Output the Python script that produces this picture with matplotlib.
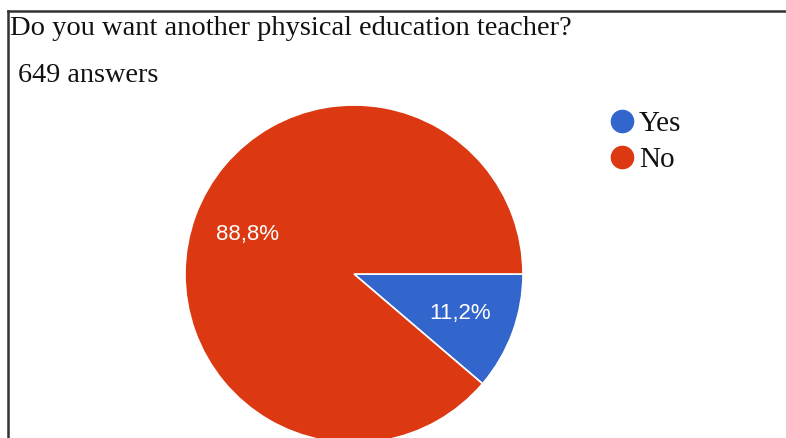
import matplotlib.pyplot as plt
from matplotlib.lines import Line2D

etiquetas = ['Yes', 'No']
respostas = [73, 576]
cores = ['#3366CC', '#DC3912']
titulo = "Do you want another physical education teacher?"
subtitulo = "649 answers"

W, H = 786, 438
fig = plt.figure(figsize=(W / 100, H / 100), dpi=100)

# moldura (linha superior e esquerda)
fig.add_artist(Line2D([8 / W, 1], [1 - 11 / H, 1 - 11 / H], color='#333333', linewidth=1.8))
fig.add_artist(Line2D([8 / W, 8 / W], [0, 1 - 11 / H], color='#333333', linewidth=1.8))

fig.text(10 / W, 1 - 35 / H, titulo, family='Liberation Serif', fontsize=20.5, color='#111111')
fig.text(18 / W, 1 - 82 / H, subtitulo, family='Liberation Serif', fontsize=20.3, color='#111111')

cx, cy, r = 354, 274, 169
ax = fig.add_axes([(cx - r) / W, (H - cy - r) / H, 2 * r / W, 2 * r / H])
wedges, _, autotexts = ax.pie(respostas, colors=cores, startangle=0, counterclock=False,
                              autopct=lambda p: f'{p:.1f}%'.replace('.', ','), pctdistance=0.67,
                              wedgeprops=dict(edgecolor='white', linewidth=1.2))
for t in autotexts:
    t.set_color('white')
    t.set_fontsize(16)
    t.set_family('Liberation Sans')
ax.set_xlim(-1, 1)
ax.set_ylim(-1, 1)
ax.set_aspect('equal')
ax.axis('off')

# legenda manual com marcadores circulares
for i, (nome, cor) in enumerate(zip(etiquetas, cores)):
    y = 1 - (121 + 36 * i) / H
    fig.add_artist(Line2D([622 / W], [y], marker='o', linestyle='', markersize=16,
                          markerfacecolor=cor, markeredgecolor=cor))
    fig.text(639 / W, y, nome, family='Liberation Serif', fontsize=21, color='#111111',
             va='center_baseline')

fig.savefig('out.png', dpi=100)
